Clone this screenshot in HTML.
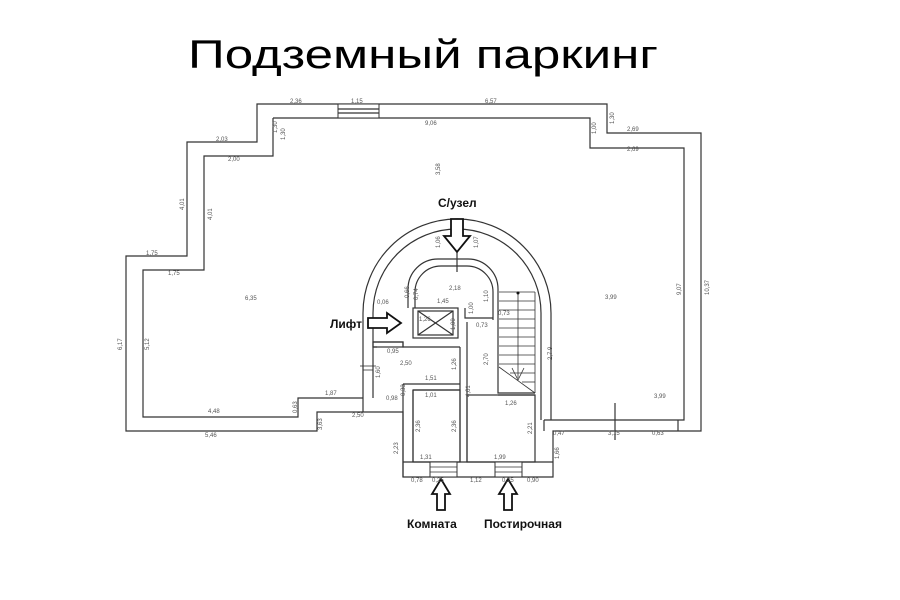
<!DOCTYPE html>
<html><head><meta charset="utf-8"><style>
html,body{margin:0;padding:0;background:#fff;width:900px;height:600px;overflow:hidden}
svg{display:block}
.w{fill:none;stroke:#333;stroke-width:1.2}
.d{font-family:"Liberation Sans",sans-serif;font-size:6px;fill:#555}
.l{font-family:"Liberation Sans","Noto Sans CJK SC",sans-serif;font-weight:bold;font-size:12px;fill:#111}
.ar{fill:#fff;stroke:#111;stroke-width:1.8}
</style></head><body>
<svg width="900" height="600" viewBox="0 0 900 600" xmlns="http://www.w3.org/2000/svg">
<text x="188" y="68" font-family="'Liberation Sans','DejaVu Sans',sans-serif" font-size="40" fill="#000" textLength="470" lengthAdjust="spacingAndGlyphs">Подземный паркинг</text>

<path class="w" d="M257,104 H607 V133 H701 V431 H553 V477 H403 V412 H317 V431 H126 V256 H187 V142 H257 Z"/>
<path class="w" d="M273,118 H590 V148 H684 V420 H544 M273,118 V156 H204 V270 H143 V417 H298 V398 H363"/>
<line class="w" x1="544" y1="420" x2="544" y2="431"/>
<line class="w" x1="678" y1="420" x2="678" y2="431"/>
<line class="w" x1="615" y1="403" x2="615" y2="440" stroke-width="0.8"/>
<rect x="338" y="104" width="41" height="14" fill="#fff" stroke="#333" stroke-width="1"/>
<line class="w" x1="338" y1="109" x2="379" y2="109" stroke-width="0.8"/>
<line class="w" x1="338" y1="113" x2="379" y2="113" stroke-width="0.8"/>

<path class="w" d="M363,412 V313 A94,94 0 0 1 551,313 V420"/>
<path class="w" d="M373,398 V313 A84,84 0 0 1 541,313 V420"/>
<path class="w" d="M408,308 V289 A30,30 0 0 1 438,259 H468 A30,30 0 0 1 498,289 V393 H535"/>
<path class="w" d="M415,308 V292 A26,26 0 0 1 441,266 H467 A26,26 0 0 1 493,292 V320"/>
<line class="w" x1="457" y1="252" x2="457" y2="272" stroke-width="0.8"/>
<rect x="413" y="308" width="45" height="30" class="w"/>
<line class="w" x1="418" y1="311" x2="453" y2="335" stroke-width="0.8"/>
<line class="w" x1="453" y1="311" x2="418" y2="335" stroke-width="0.8"/>
<rect x="418" y="311" width="35" height="24" class="w" stroke-width="0.8"/>
<path class="w" d="M465,308 V318 H493 M467,322 V462 M460,347 V462"/>
<g stroke="#333" stroke-width="0.8">
<line x1="499" y1="292" x2="535" y2="292"/>
<line x1="535" y1="292" x2="535" y2="393"/>
<line x1="499" y1="301" x2="535" y2="301"/><line x1="499" y1="310" x2="535" y2="310"/>
<line x1="499" y1="319" x2="535" y2="319"/><line x1="499" y1="328" x2="535" y2="328"/>
<line x1="499" y1="337" x2="535" y2="337"/><line x1="499" y1="346" x2="535" y2="346"/>
<line x1="499" y1="355" x2="535" y2="355"/><line x1="499" y1="364" x2="535" y2="364"/>
<line x1="510" y1="373" x2="535" y2="373"/><line x1="522" y1="382" x2="535" y2="382"/>
<line x1="499" y1="367" x2="535" y2="393"/>
<line x1="518" y1="293" x2="518" y2="378"/>
<path d="M512,368 L518,380 L524,368" fill="none"/>
</g>
<circle cx="518" cy="293" r="1.5" fill="#111"/>
<path class="w" d="M373,342 H403 V347 H460 M377,347 H373 M403,384 H460 M403,384 V462 M413,390 H460 M413,390 V462 M403,477 V462 H553"/>
<rect x="373" y="342" width="30" height="5" class="w" stroke-width="0.8"/>
<rect x="413" y="390" width="47" height="72" class="w"/>
<rect x="467" y="395" width="68" height="67" class="w"/>
<line class="w" x1="498" y1="395" x2="535" y2="395"/>
<rect x="430" y="462" width="27" height="15" fill="#fff" stroke="#333"/>
<line x1="430" y1="467" x2="457" y2="467" stroke="#333" stroke-width="0.7"/>
<line x1="430" y1="472" x2="457" y2="472" stroke="#333" stroke-width="0.7"/>
<rect x="495" y="462" width="27" height="15" fill="#fff" stroke="#333"/>
<line x1="495" y1="467" x2="522" y2="467" stroke="#333" stroke-width="0.7"/>
<line x1="495" y1="472" x2="522" y2="472" stroke="#333" stroke-width="0.7"/>
<line x1="363" y1="370" x2="373" y2="370" stroke="#333" stroke-width="0.8"/>
<line x1="360" y1="366" x2="376" y2="366" stroke="#333" stroke-width="0.8"/>

<path class="ar" d="M451,219 H463 V236 H470 L457,252 L444,236 H451 Z"/>
<path class="ar" d="M368,318 H387 V313 L401,323 L387,333 V328 H368 Z"/>
<path class="ar" d="M437,510 V494 H432 L441,479 L450,494 H445 V510 Z"/>
<path class="ar" d="M504,510 V494 H499 L508,479 L517,494 H512 V510 Z"/>
<text class="l" x="438" y="207" font-size="13">С/узел</text>
<text class="l" x="330" y="328">Лифт</text>
<text class="l" x="407" y="528">Комната</text>
<text class="l" x="484" y="528">Постирочная</text>

<g class="d">
<text x="290" y="103">2,36</text><text x="351" y="103">1,15</text><text x="485" y="103">6,57</text>
<text x="425" y="125">9,06</text><text x="216" y="141">2,03</text><text x="228" y="161">2,00</text>
<text x="146" y="255">1,75</text><text x="168" y="275">1,75</text><text x="245" y="300">6,35</text>
<text x="627" y="131">2,69</text><text x="627" y="151">2,69</text><text x="605" y="299">3,99</text>
<text x="654" y="398">3,99</text><text x="608" y="435">3,15</text><text x="652" y="435">0,63</text><text x="553" y="435">0,47</text>
<text x="208" y="413">4,48</text><text x="205" y="437">5,46</text><text x="325" y="395">1,87</text><text x="352" y="417">2,50</text>
<text x="387" y="353">0,95</text><text x="400" y="365">2,50</text><text x="386" y="400">0,98</text>
<text x="425" y="380">1,51</text><text x="425" y="397">1,01</text><text x="419" y="321">1,26</text><text x="437" y="303">1,45</text>
<text x="449" y="290">2,18</text><text x="377" y="304">0,06</text><text x="498" y="315">0,73</text><text x="476" y="327">0,73</text>
<text x="505" y="405">1,26</text><text x="420" y="459">1,31</text><text x="494" y="459">1,99</text>
<text x="411" y="482">0,78</text><text x="432" y="482">0,25</text><text x="470" y="482">1,12</text><text x="502" y="482">0,25</text><text x="527" y="482">0,90</text>
</g>
<g class="d">
<text transform="translate(277,133) rotate(-90)">1,30</text>
<text transform="translate(285,140) rotate(-90)">1,30</text>
<text transform="translate(184,210) rotate(-90)">4,01</text>
<text transform="translate(212,220) rotate(-90)">4,01</text>
<text transform="translate(122,350) rotate(-90)">6,17</text>
<text transform="translate(149,350) rotate(-90)">5,12</text>
<text transform="translate(440,175) rotate(-90)">3,58</text>
<text transform="translate(596,134) rotate(-90)">1,00</text>
<text transform="translate(614,124) rotate(-90)">1,30</text>
<text transform="translate(681,295) rotate(-90)">9,07</text>
<text transform="translate(709,295) rotate(-90)">10,37</text>
<text transform="translate(552,360) rotate(-90)">2,7 9</text>
<text transform="translate(297,413) rotate(-90)">0,63</text>
<text transform="translate(322,430) rotate(-90)">3,63</text>
<text transform="translate(398,454) rotate(-90)">2,23</text>
<text transform="translate(420,432) rotate(-90)">2,36</text>
<text transform="translate(456,432) rotate(-90)">2,36</text>
<text transform="translate(532,434) rotate(-90)">2,21</text>
<text transform="translate(559,459) rotate(-90)">1,66</text>
<text transform="translate(470,397) rotate(-90)">4,61</text>
<text transform="translate(488,365) rotate(-90)">2,70</text>
<text transform="translate(456,370) rotate(-90)">1,26</text>
<text transform="translate(380,378) rotate(-90)">1,60</text>
<text transform="translate(405,396) rotate(-90)">0,33</text>
<text transform="translate(440,248) rotate(-90)">1,06</text>
<text transform="translate(478,248) rotate(-90)">1,07</text>
<text transform="translate(409,298) rotate(-90)">0,66</text>
<text transform="translate(418,300) rotate(-90)">0,74</text>
<text transform="translate(488,302) rotate(-90)">1,10</text>
<text transform="translate(473,314) rotate(-90)">1,00</text>
<text transform="translate(455,330) rotate(-90)">1,00</text>
</g>
</svg>
</body></html>
